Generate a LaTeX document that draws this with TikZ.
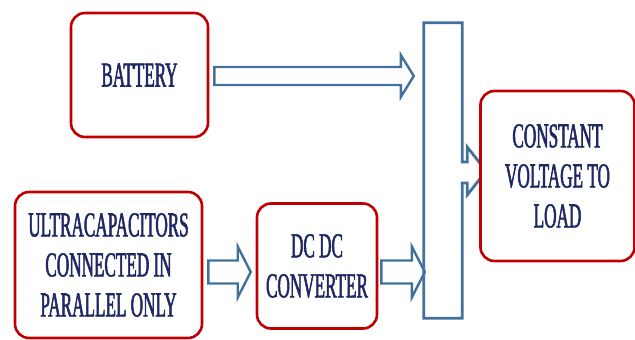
\documentclass[tikz,border=0pt]{standalone}
\usepackage{fontspec}
\usetikzlibrary{calc}
\newfontfamily\boxfont[FakeStretch=0.49, FakeBold=1.5]{Liberation Serif}
\definecolor{boxred}{RGB}{192,0,0}
\definecolor{busblue}{RGB}{65,113,156}
\definecolor{textnavy}{RGB}{31,40,100}

\begin{document}
\begin{tikzpicture}[
  x=1pt, y=-1pt,
  box/.style={draw=boxred, line width=2.6pt, rounded corners=14pt, fill=white,
    align=center, inner sep=0pt, text=textnavy,
    font=\boxfont\fontsize{35}{40}\selectfont},
  fat/.style n args={2}{draw=busblue, line width=2.4pt, line join=miter,
    to path={let \p1=(\tikztostart), \p2=(\tikztotarget) in
      (\x1,\y1+#1) -- (\x2-13pt,\y1+#1) -- (\x2-13pt,\y1+#2) -- (\x2,\y1)
      -- (\x2-13pt,\y1-#2) -- (\x2-13pt,\y1-#1) -- (\x1,\y1-#1) -- cycle}}
]
\useasboundingbox (0,0) rectangle (635,340);

\node[box, minimum width=137, minimum height=124] (batt) at (139.5,75) {BATTERY};
\node[box, minimum width=187, minimum height=146] (ultra) at (108.5,265) {ULTRACAPACITORS\\CONNECTED IN\\PARALLEL ONLY};
\node[box, minimum width=120, minimum height=125] (dcdc) at (317,266) {DC DC\\CONVERTER};

% bus bar with its outlet towards the load
\node[minimum width=38, minimum height=295, inner sep=0pt] (bus) at (443,170.5) {};
\draw[busblue, line width=2.8pt, fill=white, line join=miter]
  (bus.north west) -- (bus.north east) -- ($(bus.east)+(0,-8.5)$) -- ++(5,0)
  -- ++(0,-15) -- ++(19,24) -- ++(-19,24) -- ++(0,-12) -- ++(-5,0)
  -- (bus.south east) -- (bus.south west) -- cycle;

\node[box, minimum width=154, minimum height=170] (load) at (557.5,176) {CONSTANT\\VOLTAGE TO\\LOAD};

% block arrows
\draw[fat={9pt}{21pt}] ($(batt.east)+(5,1)$) to ($(bus.west |- batt.east)+(-10,1)$);
\draw[fat={11.5pt}{25.5pt}] ($(ultra.east)+(5,7)$) to ($(dcdc.west)+(-5,7)$);
\draw[fat={11.5pt}{25.5pt}] ($(dcdc.east)+(3,6)$) to ($(bus.west |- dcdc.east)+(1,6)$);

\end{tikzpicture}
\end{document}
